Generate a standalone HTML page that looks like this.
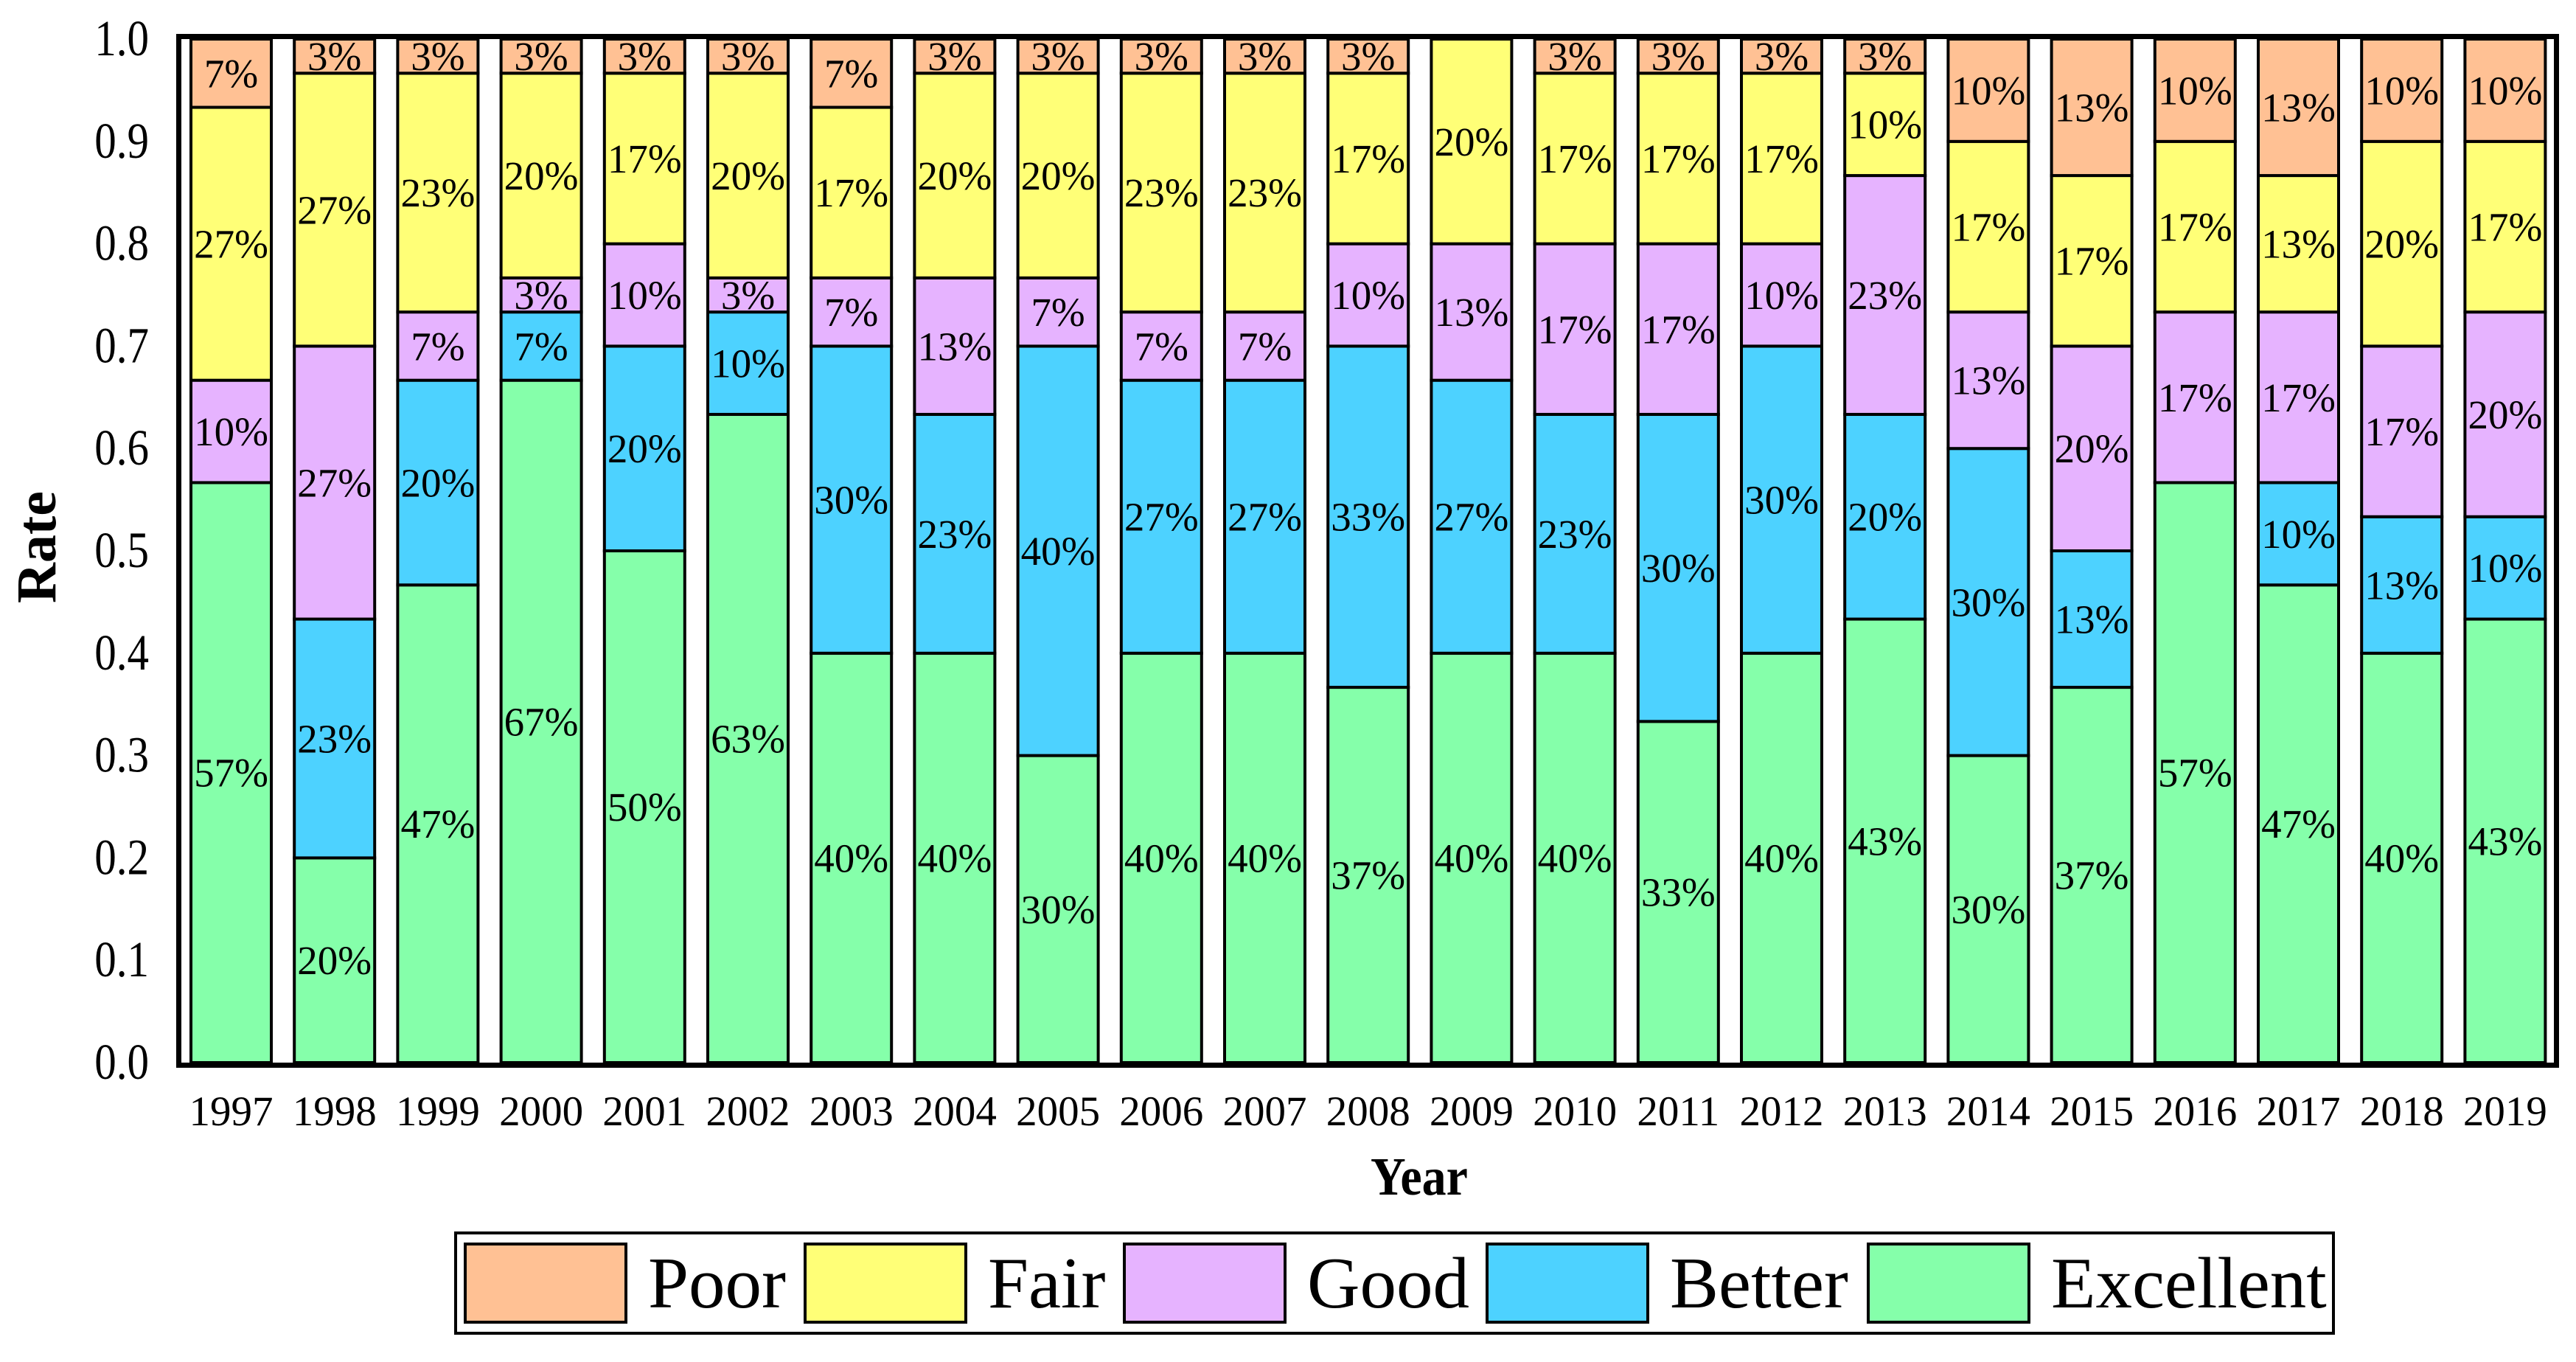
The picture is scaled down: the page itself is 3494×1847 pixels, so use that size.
<!DOCTYPE html>
<html><head><meta charset="utf-8"><style>html,body{margin:0;padding:0;background:#fff}svg{display:block}</style></head>
<body>
<svg id="chart" width="3494" height="1847" viewBox="0 0 3494 1847" xmlns="http://www.w3.org/2000/svg" font-family="'Liberation Serif', 'Times New Roman', serif">
<rect x="0" y="0" width="3494" height="1847" fill="#fff"/>
<g id="bars"></g>
<g id="labels"></g>
<rect x="242.5" y="49.5" width="3225" height="1395" fill="none" stroke="#000" stroke-width="7"/>
<g id="yticks"></g>
<g id="xticks"></g>
<text transform="translate(75,742) rotate(-90)" text-anchor="middle" font-size="76" font-weight="bold">Rate</text>
<text transform="translate(1925,1620) scale(1,1.1)" text-anchor="middle" font-size="66" font-weight="bold">Year</text>
<g id="legend">
<rect x="618" y="1672" width="2547" height="136" fill="#fff" stroke="#000" stroke-width="4"/>
</g>
</svg>
<script>
const years = ["1997","1998","1999","2000","2001","2002","2003","2004","2005","2006","2007","2008","2009","2010","2011","2012","2013","2014","2015","2016","2017","2018","2019"];
const total = 30;
const excellent = [17,6,14,20,15,19,12,12,9,12,12,11,12,12,10,12,13,9,11,17,14,12,13];
const better    = [0,7,6,2,6,3,9,7,12,8,8,10,8,7,9,9,6,9,4,0,3,4,3];
const good      = [3,8,2,1,3,1,2,4,2,2,2,3,4,5,5,3,7,4,6,5,5,5,6];
const fair      = [8,8,7,6,5,6,5,6,6,7,7,5,6,5,5,5,3,5,5,5,4,6,5];
const poor      = [2,1,1,1,1,1,2,1,1,1,1,1,0,1,1,1,1,3,4,3,4,3,3];
const yTicks = ["0.0","0.1","0.2","0.3","0.4","0.5","0.6","0.7","0.8","0.9","1.0"];
const seriesNames = ["Excellent","Better","Good","Fair","Poor"];
const seriesColors = ["#85FFAA","#4DD2FF","#E6B3FF","#FFFF77","#FFC194"];
const seriesData = [excellent,better,good,fair,poor];

const NS="http://www.w3.org/2000/svg";
const y0=1441, yTop=53;
function yScale(v){return y0-v*(y0-yTop);}
const barStart=257, barStep=140.2, barW=113;
function xScale(i){return barStart+i*barStep;}

const gb=document.getElementById('bars'), gl=document.getElementById('labels');
years.forEach((yr,i)=>{
  let cum=0;
  seriesData.forEach((arr,s)=>{
    const v=arr[i]/total;
    if(v<=0) return;
    const top=yScale(cum+v), bot=yScale(cum);
    const r=document.createElementNS(NS,'rect');
    r.setAttribute('x',xScale(i)+2);r.setAttribute('y',top);
    r.setAttribute('width',barW-4);r.setAttribute('height',bot-top);
    r.setAttribute('fill',seriesColors[s]);r.setAttribute('stroke','#000');r.setAttribute('stroke-width','4');
    
    
    gb.appendChild(r);
    const t=document.createElementNS(NS,'text');
    t.setAttribute('x',xScale(i)+barW/2);t.setAttribute('y',(top+bot)/2+19);
    t.setAttribute('text-anchor','middle');t.setAttribute('font-size','55');
    t.textContent=Math.round(v*100)+'%';
    
    
    gl.appendChild(t);
    cum+=v;
  });
  const xt=document.createElementNS(NS,'text');
  xt.setAttribute('x',xScale(i)+barW/2);xt.setAttribute('y',1526);
  xt.setAttribute('text-anchor','middle');xt.setAttribute('font-size','57');
  xt.textContent=yr;
  
  
  document.getElementById('xticks').appendChild(xt);
});
const gy=document.getElementById('yticks');
yTicks.forEach((lab,k)=>{
  const t=document.createElementNS(NS,'text');
  t.setAttribute('transform','translate(202,'+(yScale(parseFloat(lab))+22)+') scale(1,1.17)');
  t.setAttribute('text-anchor','end');t.setAttribute('font-size','59');
  t.textContent=lab;
  
  
  gy.appendChild(t);
});
const legendOrder=[4,3,2,1,0];
const swX=[629,1090,1523,2015,2532];
const lg=document.getElementById('legend');
legendOrder.forEach((s,k)=>{
  const r=document.createElementNS(NS,'rect');
  r.setAttribute('x',swX[k]+2);r.setAttribute('y',1687);r.setAttribute('width',218);r.setAttribute('height',106);
  r.setAttribute('fill',seriesColors[s]);r.setAttribute('stroke','#000');r.setAttribute('stroke-width','4');
  
  
  lg.appendChild(r);
  const t=document.createElementNS(NS,'text');
  t.setAttribute('x',swX[k]+250);t.setAttribute('y',1773);t.setAttribute('font-size','99');
  t.textContent=seriesNames[s];
  
  
  lg.appendChild(t);
});
</script>
</body></html>
